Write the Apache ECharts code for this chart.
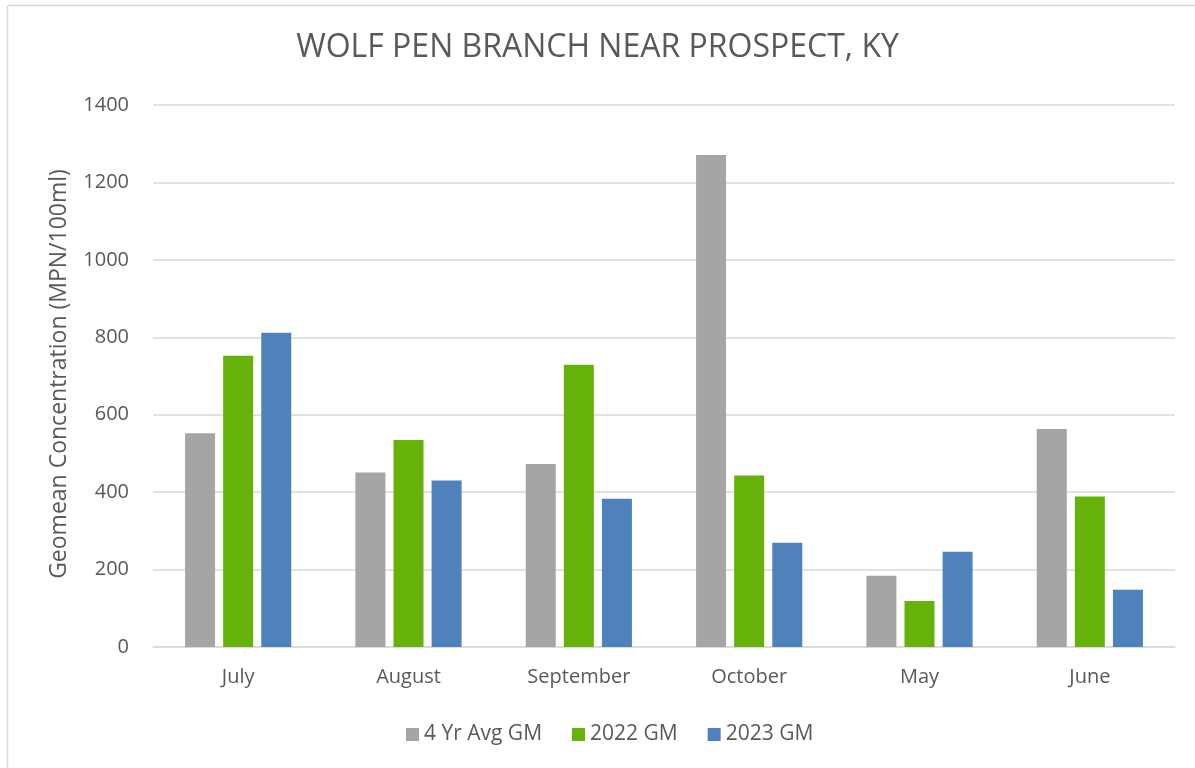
<!DOCTYPE html>
<html>
<head>
<meta charset="utf-8">
<script src="https://cdn.jsdelivr.net/npm/echarts@6/dist/echarts.min.js"></script>
<style>
  html, body { margin: 0; padding: 0; background: #fff; }
  #chart { width: 1195px; height: 768px; }
</style>
</head>
<body>
<div id="chart"></div>
<script>
// Monthly geomean E. coli concentrations, Wolf Pen Branch near Prospect, KY
const months = ['July', 'August', 'September', 'October', 'May', 'June'];
const avg4yr = [552, 451, 473, 1271, 184, 563];
const gm2022 = [752, 535, 729, 443, 119, 389];
const gm2023 = [812, 430, 383, 269, 246, 148];
const yTicks = [0, 200, 400, 600, 800, 1000, 1200, 1400];

const FONT = '"Open Sans", "Liberation Sans", sans-serif';
const TEXT = '#595959';
const RULE = '#d9d9d9';

const chart = echarts.init(document.getElementById('chart'), null, { renderer: 'canvas' });

function barSeries(name, data, color) {
  return {
    name: name,
    type: 'bar',
    data: data,
    barWidth: 30,
    barGap: '27%',
    itemStyle: { color: color },
    emphasis: { disabled: true }
  };
}

chart.setOption({
  animation: false,
  backgroundColor: '#ffffff',
  textStyle: { fontFamily: FONT },
  graphic: [
    // chart-area frame (top and left edges)
    { type: 'line', shape: { x1: 7.5, y1: 5.5, x2: 1195, y2: 5.5 },
      style: { stroke: RULE, lineWidth: 1.5 }, silent: true },
    { type: 'line', shape: { x1: 7.5, y1: 5.5, x2: 7.5, y2: 768 },
      style: { stroke: RULE, lineWidth: 1.5 }, silent: true },
    // vertical axis title
    { type: 'text', x: 59, y: 374, rotation: Math.PI / 2, silent: true,
      style: { text: 'Geomean Concentration (MPN/100ml)', align: 'center',
               verticalAlign: 'middle', fill: TEXT, font: '23px ' + FONT } }
  ],
  title: {
    text: 'WOLF PEN BRANCH NEAR PROSPECT, KY',
    left: 'center',
    top: 27,
    textStyle: { fontFamily: FONT, fontSize: 32, fontWeight: 'normal', color: TEXT }
  },
  legend: {
    bottom: 18,
    left: 401,
    itemWidth: 13,
    itemHeight: 13,
    itemGap: 30,
    icon: 'rect',
    textStyle: { fontFamily: FONT, fontSize: 21, color: TEXT },
    data: ['4 Yr Avg GM', '2022 GM', '2023 GM']
  },
  grid: { left: 153, right: 20, top: 105, bottom: 121, containLabel: false },
  xAxis: {
    type: 'category',
    data: months,
    axisLine: { show: true, lineStyle: { color: RULE, width: 1.5 } },
    axisTick: { show: false },
    axisLabel: { fontFamily: FONT, fontSize: 20, color: TEXT, margin: 20 }
  },
  yAxis: {
    type: 'value',
    min: yTicks[0],
    max: yTicks[yTicks.length - 1],
    interval: 200,
    axisLine: { show: false },
    axisTick: { show: false },
    axisLabel: { fontFamily: FONT, fontSize: 20, color: TEXT, margin: 24,
                 formatter: function (v) { return String(v); } },
    splitLine: { lineStyle: { color: RULE, width: 1.5 } }
  },
  series: [
    barSeries('4 Yr Avg GM', avg4yr, '#a5a5a5'),
    barSeries('2022 GM', gm2022, '#66b20a'),
    barSeries('2023 GM', gm2023, '#4f81bd')
  ]
});
</script>
</body>
</html>
